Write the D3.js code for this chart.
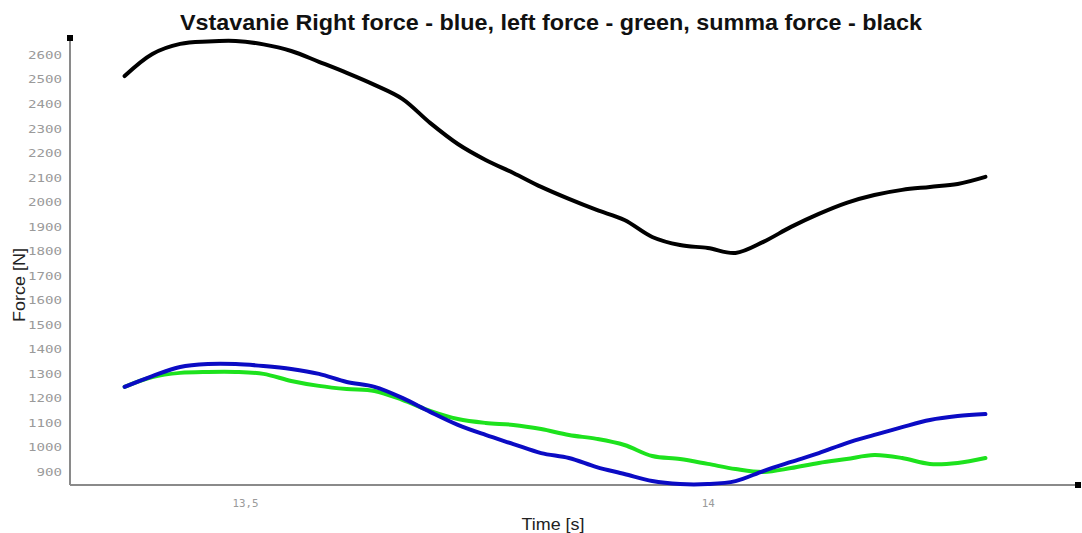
<!DOCTYPE html>
<html><head><meta charset="utf-8">
<script src="https://cdn.jsdelivr.net/npm/d3@7"></script>
<style>body{margin:0;background:#fff}</style>
</head><body>
<svg id="c" width="1082" height="533"></svg>
<script>
const title = "Vstavanie Right force - blue, left force - green, summa force - black";
const xLabel = "Time [s]";
const yLabel = "Force [N]";
const time = [13.37,13.40,13.43,13.46,13.49,13.52,13.55,13.58,13.61,13.64,13.67,13.70,13.73,13.76,13.79,13.82,13.85,13.88,13.91,13.94,13.97,14.00,14.03,14.06,14.09,14.12,14.15,14.18,14.21,14.24,14.27,14.30];
const summaForce = [2514,2604,2645,2655,2657,2643,2616,2572,2527,2478,2421,2323,2237,2172,2119,2062,2013,1968,1927,1858,1825,1813,1793,1838,1899,1952,1997,2029,2050,2062,2074,2103];
const rightForce = [1247,1291,1328,1340,1340,1332,1320,1300,1267,1247,1202,1145,1092,1051,1014,977,957,920,892,863,851,851,863,904,941,977,1018,1051,1083,1112,1128,1136];
const leftForce = [1247,1287,1304,1308,1308,1300,1271,1251,1238,1230,1194,1149,1116,1100,1092,1075,1051,1035,1010,965,953,933,912,900,916,937,953,969,957,933,937,957];
const yTicks = [900,1000,1100,1200,1300,1400,1500,1600,1700,1800,1900,2000,2100,2200,2300,2400,2500,2600];
const xTicks = [13.5,14.0];
const xTickLabels = ["13,5","14"];

const svg = d3.select("#c");
const x = d3.scaleLinear().domain([13.311,14.40]).range([70,1078]);
const y = d3.scaleLinear().domain([847,2669]).range([485,38]);
const sans = "Liberation Sans, Arial, sans-serif";

// title
svg.append("text").attr("x",551).attr("y",30).attr("text-anchor","middle")
  .attr("font-family",sans).attr("font-weight","bold")
  .attr("font-size",22).attr("textLength",742).attr("lengthAdjust","spacingAndGlyphs")
  .attr("fill","#111").text(title);

// axes lines
svg.append("line").attr("x1",x.range()[0]).attr("x2",x.range()[0]).attr("y1",y.range()[1]).attr("y2",y.range()[0])
  .attr("stroke","#8a8a8a").attr("stroke-width",2);
svg.append("line").attr("x1",x.range()[0]).attr("x2",x.range()[1]).attr("y1",y.range()[0]).attr("y2",y.range()[0])
  .attr("stroke","#8a8a8a").attr("stroke-width",2);
svg.append("rect").attr("x",x.range()[0]-3).attr("y",y.range()[1]-3).attr("width",6).attr("height",6).attr("fill","#000");
svg.append("rect").attr("x",x.range()[1]-3).attr("y",y.range()[0]-3).attr("width",6).attr("height",6).attr("fill","#000");

// y tick labels
const yAxis = d3.axisLeft(y).tickValues(yTicks).tickSize(0).tickPadding(8).tickFormat(d3.format("d"));
const gy = svg.append("g").attr("transform",`translate(${x.range()[0]},0)`).call(yAxis);
gy.select(".domain").remove();
gy.selectAll("text").attr("font-family","DejaVu Sans Mono, monospace").attr("font-size",11)
  .attr("fill","#9a9a9a").attr("textLength",d=>String(d).length*8.5).attr("lengthAdjust","spacingAndGlyphs");

// x tick labels
const xAxis = d3.axisBottom(x).tickValues(xTicks).tickSize(0).tickPadding(14).tickFormat((d,i)=>xTickLabels[i]);
const gx = svg.append("g").attr("transform",`translate(0,${y.range()[0]})`).call(xAxis);
gx.select(".domain").remove();
gx.selectAll("text").attr("font-family","DejaVu Sans Mono, monospace").attr("font-size",11)
  .attr("fill","#9a9a9a").attr("textLength",(d,i)=>xTickLabels[i].length*6.5).attr("lengthAdjust","spacingAndGlyphs");

// axis titles
svg.append("text").attr("x",553).attr("y",530).attr("text-anchor","middle")
  .attr("font-family",sans).attr("font-size",17).attr("textLength",63).attr("lengthAdjust","spacingAndGlyphs")
  .attr("fill","#222").text(xLabel);
svg.append("text").attr("transform","translate(25,285) rotate(-90)").attr("text-anchor","middle")
  .attr("font-family",sans).attr("font-size",17).attr("textLength",74).attr("lengthAdjust","spacingAndGlyphs")
  .attr("fill","#222").text(yLabel);

const line = vals => d3.line().x((d,i)=>x(time[i])).y(d=>y(d)).curve(d3.curveCatmullRom)(vals);
svg.append("path").attr("d",line(summaForce)).attr("fill","none").attr("stroke","#000").attr("stroke-width",4).attr("stroke-linecap","round");
svg.append("path").attr("d",line(leftForce)).attr("fill","none").attr("stroke","#1de21d").attr("stroke-width",4).attr("stroke-linecap","round");
svg.append("path").attr("d",line(rightForce)).attr("fill","none").attr("stroke","#0b0bc4").attr("stroke-width",4).attr("stroke-linecap","round");
</script>
</body></html>
